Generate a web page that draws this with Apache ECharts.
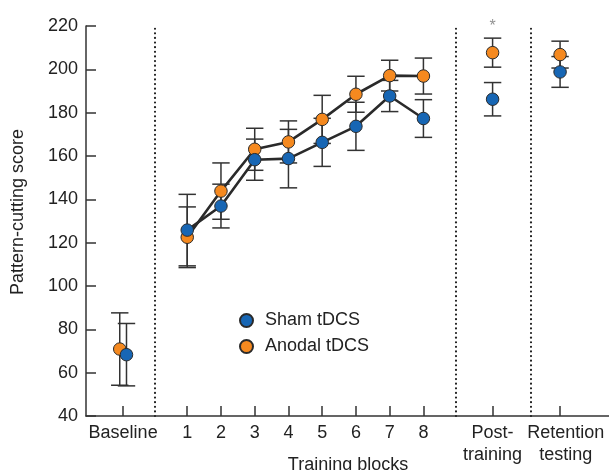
<!DOCTYPE html>
<html>
<head>
<meta charset="utf-8">
<script src="https://cdn.jsdelivr.net/npm/echarts@6/dist/echarts.min.js"></script>
<style>
  html, body { margin: 0; padding: 0; background: #fff; }
  #chart { width: 609px; height: 470px; }
</style>
</head>
<body>
<div id="chart"></div>
<script>
// Session labels along the x axis
const categories = ['Baseline', '1', '2', '3', '4', '5', '6', '7', '8', 'Post-\ntraining', 'Retention\ntesting'];

// Mean pattern-cutting scores and their error (±) per session
const shamMean   = [68.3, 125.8, 136.9, 158.3, 158.8, 166.3, 173.7, 187.7, 177.3, 186.2, 198.8];
const shamErr    = [14.4, 16.5, 10.1, 9.5, 13.5, 11.1, 11.1, 7.2, 8.7, 7.7, 7.1];
const anodalMean = [70.9, 122.5, 143.8, 163.1, 166.5, 176.9, 188.5, 197.1, 196.9, 207.7, 206.8];
const anodalErr  = [16.7, 14.0, 13.0, 9.7, 9.7, 11.1, 8.3, 7.1, 8.3, 6.7, 6.2];

// Y axis ticks
const yTicks = [40, 60, 80, 100, 120, 140, 160, 180, 200, 220];

// Layout: x position of each session on the value axis, where its label sits
// (the last one is nudged right to clear its neighbour), section dividers,
// and the small side-by-side shift used at baseline
const catPos   = [-0.9, 1, 2, 3, 4, 5, 6, 7, 8, 10.05, 12.05];
const labelPos = [-0.9, 1, 2, 3, 4, 5, 6, 7, 8, 10.05, 12.22];
const dividers = [0.05, 8.95, 11.18];
const dodge = [0.1, 0, 0, 0, 0, 0, 0, 0, 0, 0, 0];
const trainingIdx = [1, 2, 3, 4, 5, 6, 7, 8];
const postIdx = 9;

const BLUE = '#1766b4';
const ORANGE = '#f5891f';
const INK = '#2a2a2a';
const FONT = 'Liberation Sans, Arial, Helvetica, sans-serif';
const FS = 18;

function pts(means, sign) {
  return means.map((m, i) => [catPos[i] + sign * dodge[i], m]);
}
function bars(means, errs, sign) {
  return means.map((m, i) => [catPos[i] + sign * dodge[i], m - errs[i], m + errs[i]]);
}

function errorBarRender(params, api) {
  const x = api.value(0);
  const lo = api.coord([x, api.value(1)]);
  const hi = api.coord([x, api.value(2)]);
  const half = 8.7;
  const style = { stroke: '#333', lineWidth: 1.5, fill: null };
  return {
    type: 'group',
    children: [
      { type: 'line', shape: { x1: lo[0], y1: lo[1], x2: hi[0], y2: hi[1] }, style },
      { type: 'line', shape: { x1: hi[0] - half, y1: hi[1], x2: hi[0] + half, y2: hi[1] }, style },
      { type: 'line', shape: { x1: lo[0] - half, y1: lo[1], x2: lo[0] + half, y2: lo[1] }, style }
    ]
  };
}

function labelFor(v) {
  let best = 0;
  labelPos.forEach((p, i) => { if (Math.abs(p - v) < Math.abs(labelPos[best] - v)) best = i; });
  return best;
}

const chart = echarts.init(document.getElementById('chart'), null, { renderer: 'canvas' });

const option = {
  animation: false,
  backgroundColor: '#fff',
  textStyle: { fontFamily: FONT },
  grid: { left: 86, right: 0, top: 26, bottom: 54, containLabel: false },
  legend: {
    data: ['Sham tDCS', 'Anodal tDCS'],
    orient: 'vertical',
    left: 234,
    top: 305,
    itemWidth: 13,
    itemHeight: 13,
    itemGap: 5,
    icon: 'circle',
    selectedMode: false,
    textStyle: { fontFamily: FONT, fontSize: FS, color: '#222', padding: [0, 0, 0, 7], lineHeight: 21 }
  },
  xAxis: {
    type: 'value',
    min: -2,
    max: 13.5,
    splitLine: { show: false },
    axisLine: { show: true, onZero: false, lineStyle: { color: '#333', width: 1.5 } },
    axisTick: {
      show: true, inside: true, length: 10,
      customValues: catPos,
      lineStyle: { color: '#333', width: 1.5 }
    },
    axisLabel: {
      show: true,
      customValues: labelPos,
      showMinLabel: true,
      showMaxLabel: true,
      hideOverlap: false,
      margin: 6,
      fontFamily: FONT,
      fontSize: FS,
      color: '#222',
      lineHeight: 22,
      formatter: function (v) { return categories[labelFor(v)]; }
    }
  },
  yAxis: {
    type: 'value',
    min: yTicks[0],
    max: yTicks[yTicks.length - 1],
    interval: 20,
    splitLine: { show: false },
    axisLine: { show: true, onZero: false, lineStyle: { color: '#333', width: 1.5 } },
    axisTick: { show: true, inside: true, length: 10, lineStyle: { color: '#333', width: 1.5 } },
    axisLabel: { margin: 8, fontFamily: FONT, fontSize: FS, color: '#222' }
  },
  graphic: [
    {
      type: 'text', x: 18, y: 212, rotation: Math.PI / 2,
      style: { text: 'Pattern-cutting score', font: FS + 'px ' + FONT, fill: '#222', align: 'center', verticalAlign: 'middle' }
    },
    {
      type: 'text', x: 348, y: 465,
      style: { text: 'Training blocks', font: FS + 'px ' + FONT, fill: '#222', align: 'center', verticalAlign: 'middle' }
    }
  ],
  series: [
    // section dividers
    {
      type: 'line', data: [], silent: true,
      markLine: {
        silent: true, symbol: ['none', 'none'], label: { show: false },
        lineStyle: { color: '#222', width: 2.2, type: [0.01, 4.6], cap: 'round' },
        data: dividers.map(x => ({ xAxis: x }))
      }
    },
    // error bars
    { type: 'custom', name: 'anodalErr', z: 2, renderItem: errorBarRender, encode: { x: 0, y: [1, 2] }, data: bars(anodalMean, anodalErr, -1) },
    { type: 'custom', name: 'shamErr', z: 2, renderItem: errorBarRender, encode: { x: 0, y: [1, 2] }, data: bars(shamMean, shamErr, 1) },
    // training-block trajectories
    {
      type: 'line', name: 'anodalLine', z: 3, symbol: 'none',
      lineStyle: { color: INK, width: 2.6 },
      data: trainingIdx.map(i => [catPos[i], anodalMean[i]])
    },
    {
      type: 'line', name: 'shamLine', z: 3, symbol: 'none',
      lineStyle: { color: INK, width: 2.6 },
      data: trainingIdx.map(i => [catPos[i], shamMean[i]])
    },
    // group means
    {
      type: 'scatter', name: 'Anodal tDCS', z: 4, symbol: 'circle', symbolSize: 12.5,
      itemStyle: { color: ORANGE, borderColor: INK, borderWidth: 1, opacity: 1 },
      data: pts(anodalMean, -1)
    },
    {
      type: 'scatter', name: 'Sham tDCS', z: 5, symbol: 'circle', symbolSize: 12.5,
      itemStyle: { color: BLUE, borderColor: INK, borderWidth: 1, opacity: 1 },
      data: pts(shamMean, 1)
    },
    // significance marker above post-training
    {
      type: 'scatter', name: 'sig', z: 6, symbolSize: 0, silent: true,
      data: [[catPos[postIdx], 220]],
      label: { show: true, position: 'inside', formatter: '*', offset: [0, 1], fontFamily: FONT, fontSize: 16, color: '#777' }
    }
  ]
};

chart.setOption(option);
</script>
</body>
</html>
